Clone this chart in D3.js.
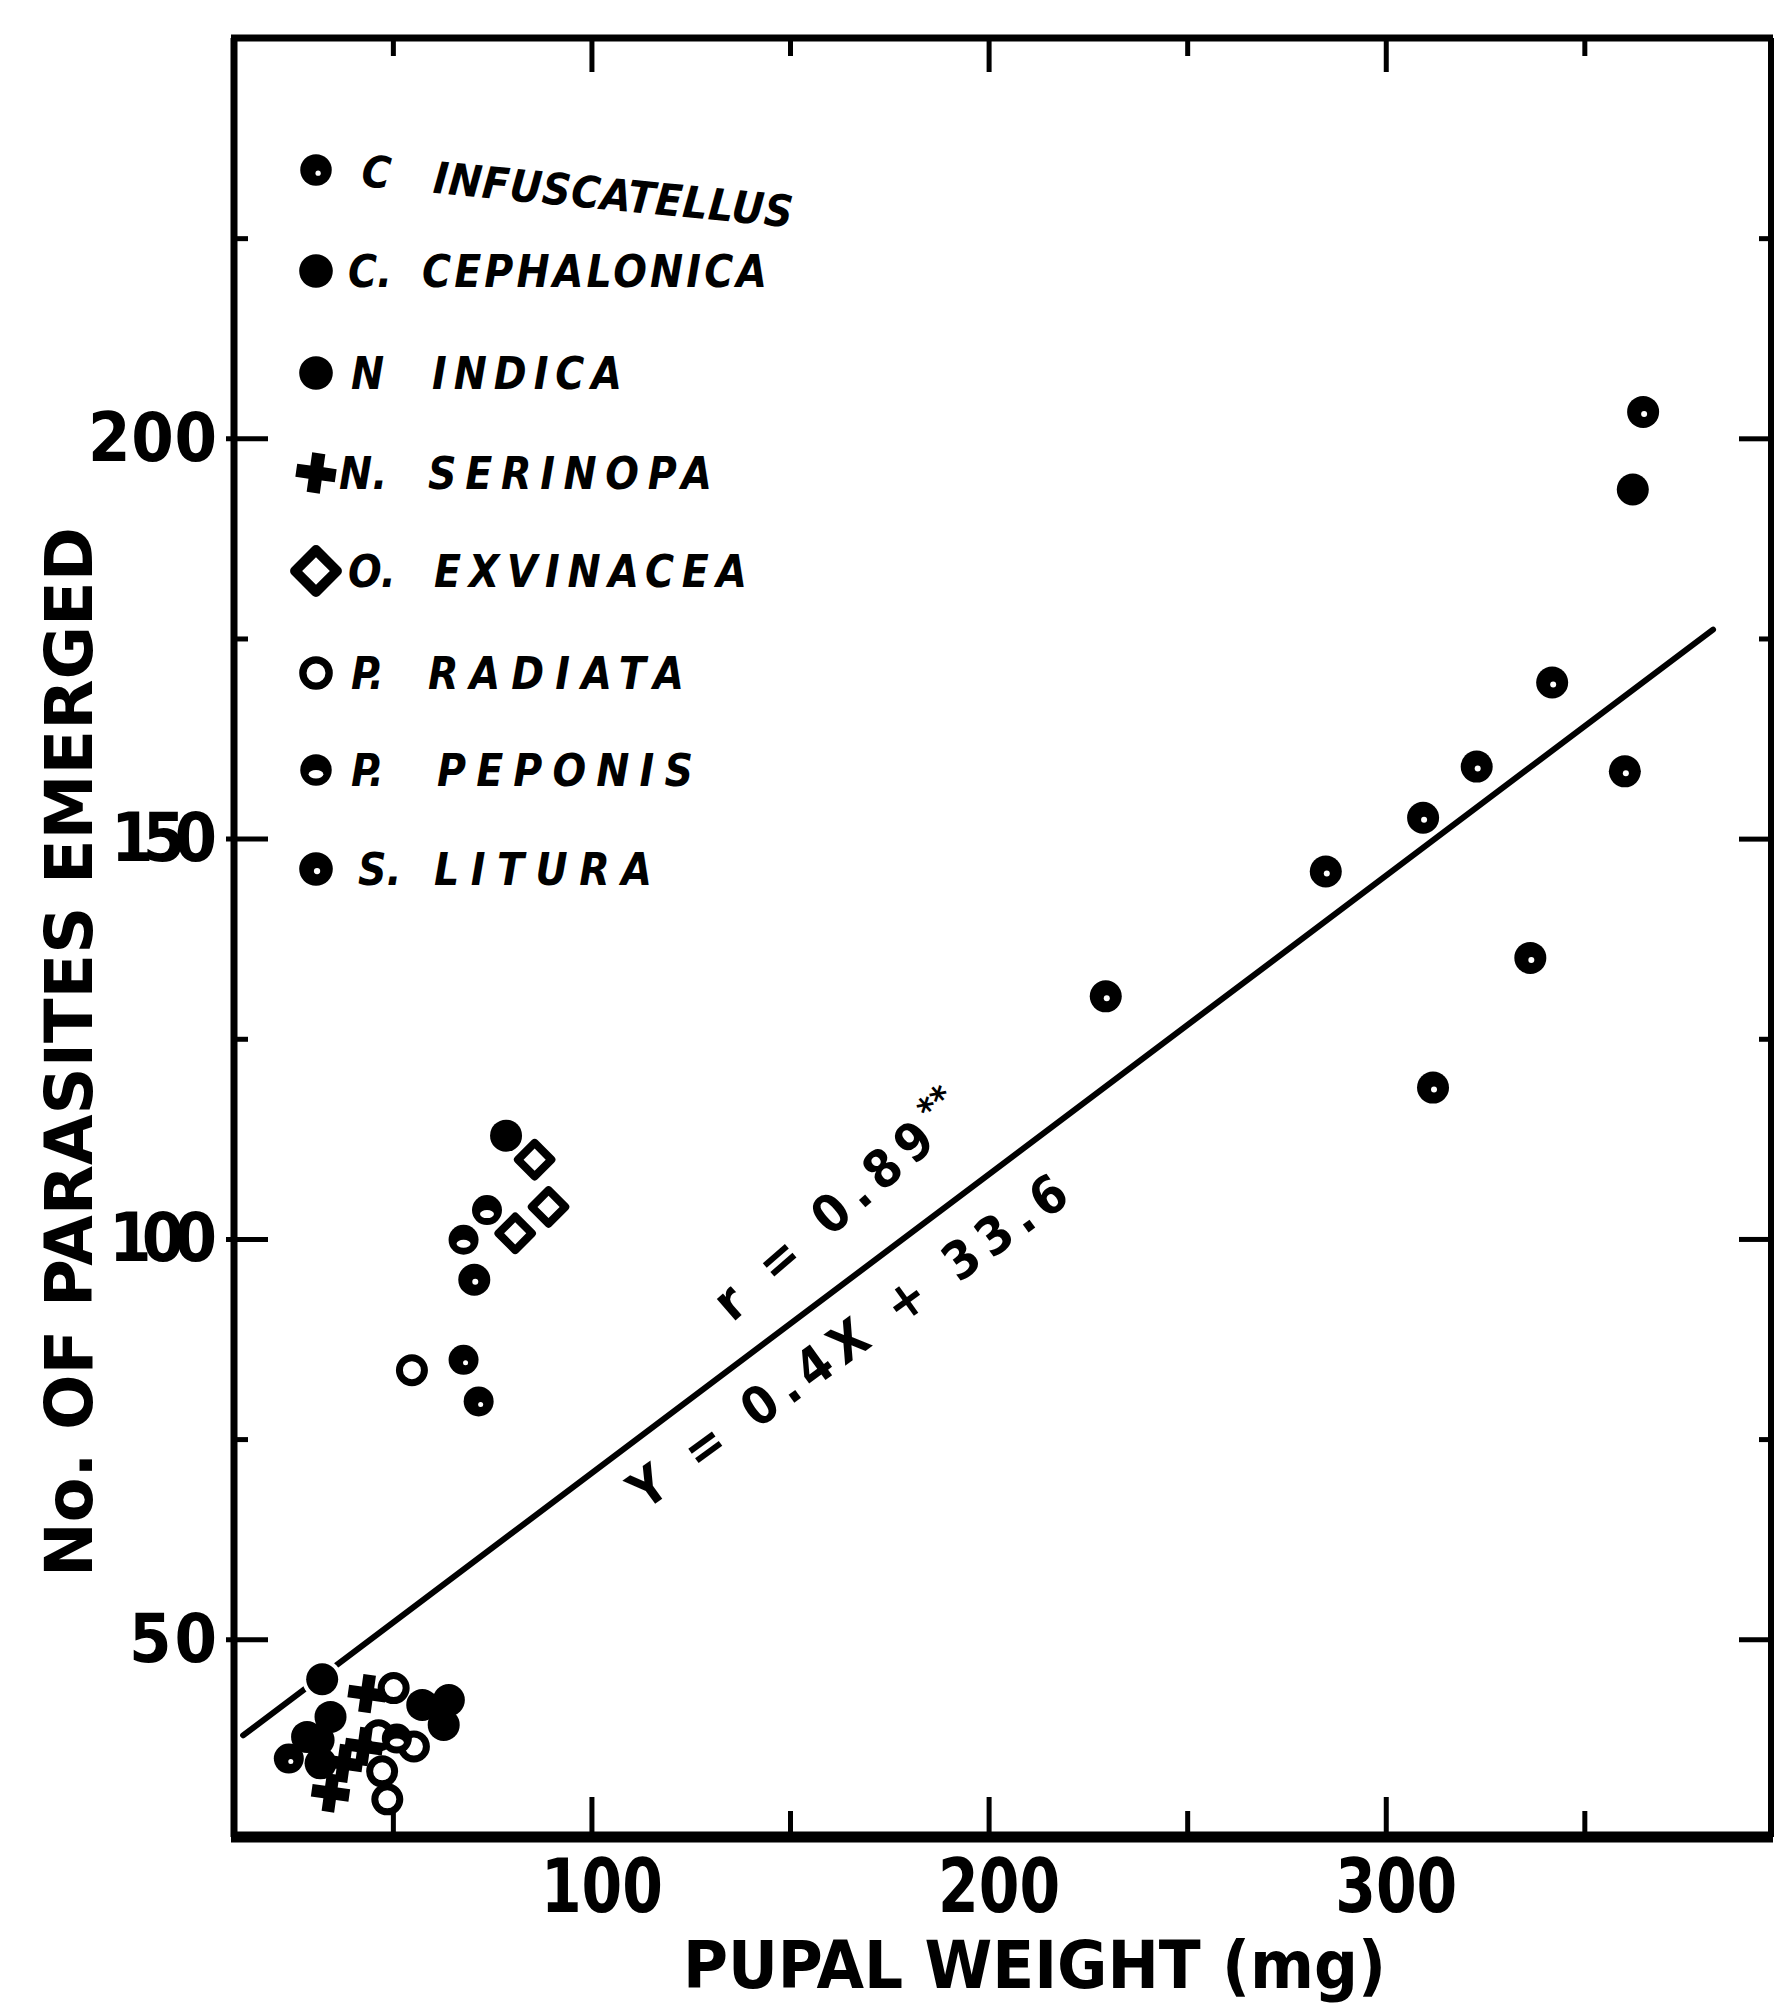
<!DOCTYPE html>
<html>
<head>
<meta charset="utf-8">
<script src="https://cdn.jsdelivr.net/npm/d3@7"></script>
<style>
  body { margin: 0; background: #fff; }
  text { font-family: "DejaVu Sans Condensed", "DejaVu Sans", sans-serif; font-weight: bold; fill: #000; }
</style>
</head>
<body>
<svg width="1776" height="2004"></svg>
<script>
// host species (legend order)
var species = ["infuscatellus", "cephalonica", "indica", "serinopa", "exvinacea", "radiata", "peponis", "litura"];
var legendAbbr = ["C", "C.", "N", "N.", "O.", "P.", "P.", "S."];
var legendName = ["INFUSCATELLUS", "CEPHALONICA", "INDICA", "SERINOPA", "EXVINACEA", "RADIATA", "PEPONIS", "LITURA"];

// pupal weight (mg), parasites emerged, host species of each point
var pupalWeight = [364.8, 362.2, 341.9, 322.9, 309.4, 360.2, 284.9, 336.4, 229.5, 311.9,
                   78.5, 85.7, 89.2, 73.7, 80.8, 67.8, 70.5, 54.8, 67.8, 71.6,
                   32.2, 43.5, 50.2, 57.4, 64.1, 62.8, 34.3, 31.3, 23.8, 46.4,
                   42.7, 55.3, 51.0, 37.6, 31.8, 47.3, 34.3, 48.6, 28.4];
var emerged = [203.3, 193.6, 169.5, 159.0, 152.6, 158.4, 145.9, 135.1, 130.3, 118.9,
               112.9, 109.9, 104.0, 103.6, 100.7, 99.9, 94.9, 83.6, 84.9, 79.7,
               45.0, 43.2, 43.9, 41.8, 42.4, 39.3, 40.3, 37.4, 35.1, 38.0,
               36.6, 36.6, 37.6, 34.5, 34.5, 33.5, 30.8, 30.0, 37.8];
var host = ["litura", "indica", "litura", "litura", "litura", "litura", "litura", "litura", "litura", "litura",
            "indica", "exvinacea", "exvinacea", "peponis", "exvinacea", "peponis", "litura", "radiata", "infuscatellus", "infuscatellus",
            "cephalonica", "serinopa", "radiata", "indica", "indica", "indica", "cephalonica", "cephalonica", "infuscatellus", "radiata",
            "serinopa", "radiata", "peponis", "serinopa", "cephalonica", "radiata", "serinopa", "radiata", "cephalonica"];

// fitted line as drawn (end points)
var fitX = [12.3, 382.4];
var fitY = [38.0, 176.1];

var xTicks = [100, 200, 300];
var xMinor = [50, 100, 150, 200, 250, 300, 350];
var yTicks = [50, 100, 150, 200];
var yMinor = [50, 75, 100, 125, 150, 175, 200, 225];

var svg = d3.select("svg");

var x = d3.scaleLinear().domain([10, 397]).range([234, 1771]);
var y = d3.scaleLinear().domain([25.3, 250]).range([1837, 38]);

// markers
function marker(g, type, s) {
  if (type == "cephalonica" || type == "indica") {
    g.append("circle").attr("r", 16 * s).attr("fill", "#000");
  } else if (type == "infuscatellus") {
    g.append("circle").attr("r", 15 * s).attr("fill", "#000");
    g.append("circle").attr("r", 2.5 * s).attr("cx", 2 * s).attr("cy", 3 * s).attr("fill", "#fff");
  } else if (type == "serinopa") {
    g.append("path").attr("d", d3.symbol(d3.symbolCross, 800 * s * s)()).attr("fill", "#000")
      .attr("transform", "rotate(8)");
  } else if (type == "exvinacea") {
    g.append("path").attr("d", d3.symbol(d3.symbolSquare, 560 * s * s)())
      .attr("fill", "#fff").attr("stroke", "#000").attr("stroke-width", 8 * s)
      .attr("stroke-linejoin", "round").attr("transform", "rotate(45)");
  } else if (type == "radiata") {
    g.append("circle").attr("r", 12.5 * s).attr("fill", "#fff").attr("stroke", "#000").attr("stroke-width", 7 * s);
  } else if (type == "peponis") {
    g.append("circle").attr("r", 15 * s).attr("fill", "#000");
    g.append("ellipse").attr("cy", 4 * s).attr("rx", 7 * s).attr("ry", 4 * s).attr("fill", "#fff");
  } else if (type == "litura") {
    g.append("circle").attr("r", 16 * s).attr("fill", "#000");
    g.append("circle").attr("r", 3 * s).attr("cx", 1 * s).attr("cy", 2 * s).attr("fill", "#fff");
  }
}

// fitted line
svg.append("line")
  .attr("x1", x(fitX[0])).attr("y1", y(fitY[0]))
  .attr("x2", x(fitX[1])).attr("y2", y(fitY[1]))
  .attr("stroke", "#000").attr("stroke-width", 6).attr("stroke-linecap", "round");

// points
var points = d3.range(pupalWeight.length).map(function(i) {
  return { w: pupalWeight[i], n: emerged[i], sp: host[i] };
});
svg.append("g").selectAll("g").data(points).enter().append("g")
  .attr("transform", function(d) { return "translate(" + x(d.w) + "," + y(d.n) + ")"; })
  .each(function(d) {
    var g = d3.select(this);
    // white halo so the line breaks round the point
    g.append("circle").attr("r", 20).attr("fill", "#fff").attr("opacity", d.w < 40 && d.n > 44 ? 1 : 0);
    marker(g, d.sp, 1);
  });

// axes, ticks inward
var gb = svg.append("g").attr("transform", "translate(0," + y.range()[0] + ")")
  .call(d3.axisBottom(x).tickValues(xMinor).tickSize(-30).tickPadding(22)
    .tickFormat(function(d) { return xTicks.indexOf(d) >= 0 ? d : ""; }));
gb.select(".domain").remove();
gb.selectAll("line").attr("stroke-width", 5)
  .attr("y2", function(d) { return xTicks.indexOf(d) >= 0 ? -40 : -26; });
gb.selectAll("text").attr("font-size", 74).attr("dx", 10).attr("textLength", 122).attr("lengthAdjust", "spacingAndGlyphs")
  .attr("font-family", "'DejaVu Sans Condensed', 'DejaVu Sans', sans-serif").attr("font-weight", "bold");

var gt = svg.append("g").attr("transform", "translate(0," + y.range()[1] + ")")
  .call(d3.axisTop(x).tickValues(xMinor).tickSize(-24).tickFormat(""));
gt.select(".domain").remove();
gt.selectAll("line").attr("stroke-width", 5)
  .attr("y2", function(d) { return xTicks.indexOf(d) >= 0 ? 34 : 18; });

var yLabelWidth = { 50: 88, 100: 108, 150: 106, 200: 129 };
var gl = svg.append("g").attr("transform", "translate(" + x.range()[0] + ",0)")
  .call(d3.axisLeft(y).tickValues(yMinor).tickSize(-30).tickPadding(17)
    .tickFormat(function(d) { return yTicks.indexOf(d) >= 0 ? d : ""; }));
gl.select(".domain").remove();
gl.selectAll("line").attr("stroke-width", 5)
  .attr("x1", function(d) { return yTicks.indexOf(d) >= 0 ? -8 : 0; })
  .attr("x2", function(d) { return yTicks.indexOf(d) >= 0 ? 34 : 14; });
gl.selectAll("text").attr("font-size", 68)
  .attr("textLength", function(d) { return yLabelWidth[d] || null; }).attr("lengthAdjust", "spacing")
  .attr("font-family", "'DejaVu Sans Condensed', 'DejaVu Sans', sans-serif").attr("font-weight", "bold");

var gr = svg.append("g").attr("transform", "translate(" + x.range()[1] + ",0)")
  .call(d3.axisRight(y).tickValues(yMinor).tickSize(-30).tickFormat(""));
gr.select(".domain").remove();
gr.selectAll("line").attr("stroke-width", 5)
  .attr("x2", function(d) { return yTicks.indexOf(d) >= 0 ? -32 : -12; });

// frame
var x0 = x.range()[0], x1 = x.range()[1], y0 = y.range()[0], y1 = y.range()[1];
svg.append("line").attr("x1", x0 - 3).attr("x2", x1 + 2).attr("y1", y0).attr("y2", y0).attr("stroke", "#000").attr("stroke-width", 11);
svg.append("line").attr("x1", x0 - 3).attr("x2", x1 + 2).attr("y1", y1).attr("y2", y1).attr("stroke", "#000").attr("stroke-width", 7);
svg.append("line").attr("x1", x0).attr("x2", x0).attr("y1", y1).attr("y2", y0).attr("stroke", "#000").attr("stroke-width", 7);
svg.append("line").attr("x1", x1).attr("x2", x1).attr("y1", y1).attr("y2", y0).attr("stroke", "#000").attr("stroke-width", 6);

// axis titles
svg.append("text")
  .attr("transform", "translate(92," + 1052 + ") rotate(-90)")
  .attr("text-anchor", "middle")
  .attr("font-size", 66)
  .attr("textLength", 1050).attr("lengthAdjust", "spacingAndGlyphs")
  .text("No. OF PARASITES  EMERGED");

svg.append("text")
  .attr("x", 683).attr("y", 1988)
  .attr("font-size", 66)
  .attr("textLength", 703).attr("lengthAdjust", "spacingAndGlyphs")
  .text("PUPAL  WEIGHT (mg)");

// legend
var legendY = [170, 271, 373, 473, 571, 673, 770, 869];
var abbrX = [362, 348, 351, 339, 348, 351, 351, 358];
var nameX = [434, 422, 432, 428, 434, 428, 437, 434];
var nameEnd = [795, 767, 622, 712, 747, 684, 693, 652];
var lg = svg.append("g");
species.forEach(function(sp, i) {
  var g = lg.append("g").attr("transform", "translate(316," + legendY[i] + ")");
  marker(g, sp, sp == "exvinacea" ? 1.25 : 1.05);
  var row = lg.append("g")
    .attr("transform", i == 0 ? "rotate(5.5," + abbrX[i] + "," + legendY[i] + ")" : null);
  row.append("text").attr("x", abbrX[i]).attr("y", legendY[i] + 16)
    .attr("font-size", 44).attr("font-style", "italic").text(legendAbbr[i]);
  row.append("text")
    .attr("x", nameX[i]).attr("y", legendY[i] + 16)
    .attr("font-size", 44).attr("font-style", "italic")
    .attr("textLength", nameEnd[i] - nameX[i]).attr("lengthAdjust", "spacing")
    .text(legendName[i]);
});

// annotations along the line
var rText = svg.append("g")
  .attr("transform", "translate(" + x(135.5) + "," + y(89.5) + ") rotate(-41)");
rText.append("text")
  .attr("font-size", 52)
  .attr("textLength", 272).attr("lengthAdjust", "spacing")
  .text("r = 0.89");
rText.append("text")
  .attr("x", 280).attr("y", -20)
  .attr("font-size", 36)
  .text("**");

svg.append("text")
  .attr("transform", "translate(" + x(113.5) + "," + y(66) + ") rotate(-36)")
  .attr("font-size", 52)
  .attr("textLength", 528).attr("lengthAdjust", "spacing")
  .text("Y = 0.4X + 33.6");
</script>
</body>
</html>
